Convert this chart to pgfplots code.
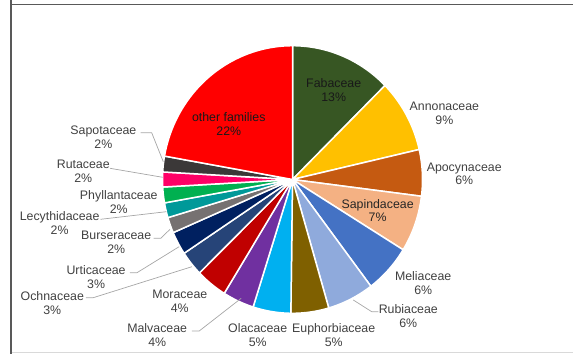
\documentclass[border=0pt]{standalone}
\usepackage{pgfplots}
\usepackage{pgfplotstable}
\pgfplotsset{compat=1.18}
\usepackage{fontspec}
\setmainfont{Liberation Sans}
\definecolor{c0}{HTML}{375623}
\definecolor{c1}{HTML}{FFC000}
\definecolor{c2}{HTML}{C55A11}
\definecolor{c3}{HTML}{F4B183}
\definecolor{c4}{HTML}{4472C4}
\definecolor{c5}{HTML}{8FAADC}
\definecolor{c6}{HTML}{7F6000}
\definecolor{c7}{HTML}{00B0F0}
\definecolor{c8}{HTML}{7030A0}
\definecolor{c9}{HTML}{C00000}
\definecolor{c10}{HTML}{264478}
\definecolor{c11}{HTML}{002060}
\definecolor{c12}{HTML}{767171}
\definecolor{c13}{HTML}{009999}
\definecolor{c14}{HTML}{00B050}
\definecolor{c15}{HTML}{FF0066}
\definecolor{c16}{HTML}{3B3838}
\definecolor{c17}{HTML}{FF0000}
\definecolor{lab}{HTML}{404040}
\definecolor{lead}{HTML}{A6A6A6}
\definecolor{frame}{HTML}{595959}
\tikzset{lbl/.style={font=\fontsize{12.4}{13.8}\selectfont, align=center, text=lab, inner sep=0pt}}

\pgfplotstableread{
family value
Fabaceae 12.6
Annonaceae 8.8
Apocynaceae 5.6
Sapindaceae 6.8
Meliaceae 5.9
Rubiaceae 5.8
Euphorbiaceae 4.7
Olacaceae 4.7
Malvaceae 3.9
Moraceae 3.9
Ochnaceae 3.0
Urticaceae 2.8
Burseraceae 1.9
Lecythidaceae 1.8
Phyllantaceae 1.9
Rutaceae 1.8
Sapotaceae 1.9
other 22.2
}\pietable

\begin{document}
\begin{tikzpicture}
\useasboundingbox (0,0) rectangle (573bp,354bp);
\begin{axis}[
  at={(0,0)}, anchor=south west,
  x=1bp, y=1bp,
  xmin=0, xmax=573, ymin=0, ymax=354,
  hide axis, clip=false,
]
\def\cum{0}
\pgfplotsforeachungrouped \i in {0,...,17}{%
  \pgfplotstablegetelem{\i}{value}\of\pietable
  \pgfmathsetmacro\sa{\cum*3.6}%
  \pgfmathsetmacro\cum{\cum+\pgfplotsretval}%
  \pgfmathsetmacro\sb{\cum*3.6}%
  \edef\tmp{\noexpand\addplot[fill=c\i, draw=white, line width=1.5bp, line join=round, variable=\noexpand\u, samples at={0,1,...,42}]
    ({292.5+130*(\noexpand\u>0.5)*(\noexpand\u<41.5)*sin(\sa+(\sb-\sa)*(\noexpand\u-1)/40)},
     {174.5+133.8*(\noexpand\u>0.5)*(\noexpand\u<41.5)*cos(\sa+(\sb-\sa)*(\noexpand\u-1)/40)});}%
  \tmp
}

% leader lines
\addplot[lead, line width=0.7bp] coordinates {(140.7,221.3) (151.7,221.3) (163.3,192.3)};
\addplot[lead, line width=0.7bp] coordinates {(110,185.7) (162.7,176.7)};
\addplot[lead, line width=0.7bp] coordinates {(100.5,134.7) (166.3,142.3)};
\addplot[lead, line width=0.7bp] coordinates {(153.5,115.7) (160.8,115.7) (170,124.7)};
\addplot[lead, line width=0.7bp] coordinates {(129.8,81.3) (137,81.3) (179.1,107.3)};
\addplot[lead, line width=0.7bp] coordinates {(85.9,56.3) (93.2,56.3) (191.9,87.3)};
\addplot[lead, line width=0.7bp] coordinates {(191.9,23) (199.2,23) (241.2,55.7)};
\addplot[lead, line width=0.7bp] coordinates {(378.3,42.3) (371.7,42.3) (353.3,54)};

% labels
\node[lbl, text=black!90] at (axis cs:333.7,264.2) {Fabaceae\\13\%};
\node[lbl] at (axis cs:444.4,241) {Annonaceae\\9\%};
\node[lbl] at (axis cs:464.2,180.2) {Apocynaceae\\6\%};
\node[lbl, text=black!85] at (axis cs:377.6,143.5) {Sapindaceae\\7\%};
\node[lbl] at (axis cs:423.2,71.2) {Meliaceae\\6\%};
\node[lbl] at (axis cs:408.3,37.7) {Rubiaceae\\6\%};
\node[lbl] at (axis cs:333.7,18.7) {Euphorbiaceae\\5\%};
\node[lbl] at (axis cs:257.7,18.7) {Olacaceae\\5\%};
\node[lbl] at (axis cs:157.2,18.7) {Malvaceae\\4\%};
\node[lbl] at (axis cs:179.8,53) {Moraceae\\4\%};
\node[lbl] at (axis cs:52.3,50.7) {Ochnaceae\\3\%};
\node[lbl] at (axis cs:96.1,76.8) {Urticaceae\\3\%};
\node[lbl] at (axis cs:116.2,111.5) {Burseraceae\\2\%};
\node[lbl] at (axis cs:59.6,131) {Lecythidaceae\\2\%};
\node[lbl] at (axis cs:118.8,152) {Phyllantaceae\\2\%};
\node[lbl] at (axis cs:83.3,182.7) {Rutaceae\\2\%};
\node[lbl] at (axis cs:103.4,217) {Sapotaceae\\2\%};
\node[lbl, text=black!90] at (axis cs:228.8,229.8) {other families\\22\%};

% frame
\draw[frame, line width=1.6bp] (axis cs:11,360) -- (axis cs:11,349.3) -- (axis cs:580,349.3);
\draw[frame, line width=1.6bp] (axis cs:11,349.3) -- (axis cs:11,-5);
\draw[black!15, line width=1bp] (axis cs:12,1.5) -- (axis cs:580,1.5);
\end{axis}
\end{tikzpicture}
\end{document}
